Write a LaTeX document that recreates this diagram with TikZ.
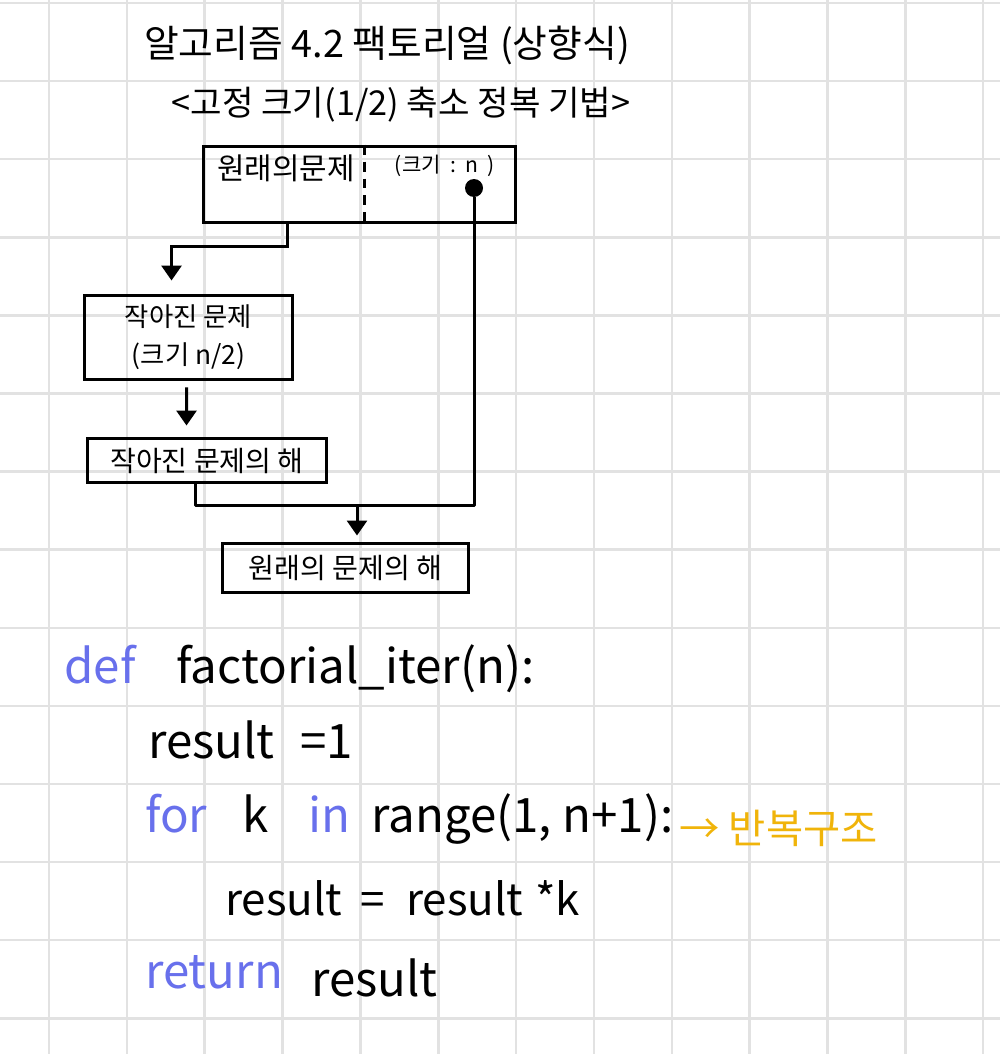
\documentclass[tikz,border=0pt]{standalone}
\usepackage{fontspec}
\setmainfont{Noto Sans CJK KR}
\usetikzlibrary{arrows.meta,calc}
\definecolor{kw}{RGB}{104,112,236}
\definecolor{note}{RGB}{240,180,10}
\definecolor{gridline}{RGB}{226,226,226}
\begin{document}
\begin{tikzpicture}[x=0.02cm,y=-0.02cm,
  ink/.style={line width=0.06cm, black},
  box/.style={draw, line width=0.06cm, inner sep=0pt, align=center},
  arr/.style={ink, -{Triangle[width=0.4cm,length=0.3cm]}},
  code/.style={anchor=base west, inner sep=0pt, font=\fontsize{27}{30}\selectfont},
  small code/.style={code, font=\fontsize{25}{28}\selectfont},
  kwd/.style={code, text=kw},
  mid/.style={font=\fontsize{16}{18}\selectfont},
]
% paper and grid
\fill[white] (0,0) rectangle (1000,1054);
\useasboundingbox (0,0) rectangle (1000,1054);
\foreach \k in {0,...,13}
  \draw[gridline, line width=0.05cm] (0,{3+78.1*\k}) -- (1000,{3+78.1*\k});
\foreach \k in {0,...,12}
  \draw[gridline, line width=0.05cm] ({49+77.85*\k},0) -- ({49+77.85*\k},1054);

% headings
\node[font=\fontsize{21.5}{25}\selectfont] (t1) at (387,45) {알고리즘 4.2 팩토리얼 (상향식)};
\node[font=\fontsize{19.5}{23}\selectfont] (t2) at (401,105) {<고정 크기(1/2) 축소 정복 기법>};

% original problem
\node[box, minimum width=6.26cm, minimum height=1.54cm] (b1) at (359.5,184.5) {};
\draw[line width=0.05cm, dash pattern=on 0.2cm off 0.14cm]
  ($(b1.north west)+(163,0)$) -- ($(b1.south west)+(163,0)$);
\node[font=\fontsize{17}{19}\selectfont] (l1) at (286,168) {원래의문제};
\node[font=\fontsize{12}{14}\selectfont] (l2) at (445,166) {(크기\ \ :\ \ n\ \ )};
\node[circle, fill, inner sep=0pt, minimum size=0.36cm] (dot) at (474,188) {};

% smaller problem and its solution
\node[box, minimum width=4.18cm, minimum height=1.7cm, font=\fontsize{15}{21.5}\selectfont]
  (b2) at (188.5,337.5) {작아진 문제\\(크기 n/2)};
\node[box, minimum width=4.8cm, minimum height=0.9cm, mid] (b3) at (207,460.5) {작아진 문제의 해};
\node[box, minimum width=4.94cm, minimum height=0.98cm, mid] (b4) at (345.5,567.5) {원래의 문제의 해};

% connectors
\draw[arr] ($(b1.south west)+(86,0)$) -- ++(0,22) -| ($(b2.north west)+(89,-13)$);
\draw[arr] ($(b2.south west)+(104,6)$) -- ($(b3.north west)+(101,-11)$);
\coordinate (m) at (357,505);
\draw[ink, line join=round] ($(b3.south west)+(110,0)$) |- (m) -- (m -| dot) -- (dot);
\draw[arr] (m) -- ($(m |- b4.north)+(0,-6)$);

% code
\node[kwd]  (c1) at (64,683)  {def};
\node[code] (c2) at (176,683) {factorial\_iter(n):};
\node[code] (c3) at (148,758) {result};
\node[code] (c4) at (300,758) {=1};
\node[kwd]  (c5) at (145,832) {for};
\node[code] (c6) at (242,832) {k};
\node[kwd]  (c7) at (308,832) {in};
\node[code] (c8) at (371,832) {range(1, n+1):};
\node[code, text=note, font=\fontsize{23}{26}\selectfont] (c9) at (679,843) {→ 반복구조};
\node[small code] (c10) at (225,915) {result};
\node[small code] (c11) at (360,915) {=};
\node[small code] (c12) at (406,915) {result};
\node[small code] (c13) at (535,915) {*k};
\node[kwd]  (c14) at (145,988) {return};
\node[code] (c15) at (311,996) {result};
\end{tikzpicture}
\end{document}
